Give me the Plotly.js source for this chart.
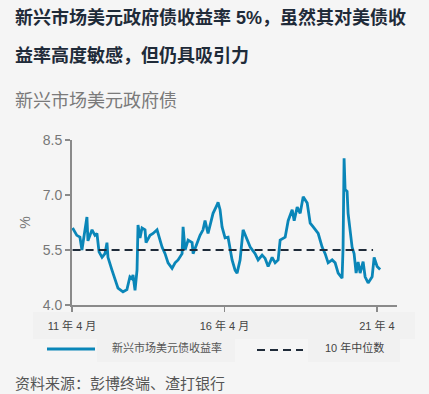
<!DOCTYPE html>
<html>
<head>
<meta charset="utf-8">
<script src="https://cdn.plot.ly/plotly-3.0.1.min.js"></script>
<style>html,body{margin:0;padding:0;background:#f5f5f5;}#chart{width:429px;height:394px;}</style>
</head>
<body>
<div id="chart"></div>
<script>
// Data
var dates = [
"2011-04-08","2011-05-29","2011-07-05","2011-07-29","2011-09-27","2011-10-09","2011-11-27","2012-01-01","2012-01-25","2012-02-19",
"2012-03-26","2012-04-30","2012-05-24","2012-06-05","2012-07-23","2012-08-28","2012-10-03","2012-12-02","2013-01-18","2013-02-23",
"2013-03-19","2013-04-01","2013-04-25","2013-05-19","2013-05-31","2013-06-24","2013-07-18","2013-08-23","2013-09-04","2013-10-22",
"2013-11-27","2014-01-14","2014-02-07","2014-03-15","2014-04-20","2014-05-26","2014-07-13","2014-08-18","2014-09-23","2014-11-10",
"2014-11-22","2014-12-16","2015-01-21","2015-03-10","2015-03-22","2015-05-08","2015-06-13","2015-07-19","2015-08-12","2015-09-17",
"2015-11-04","2015-11-16","2016-01-03","2016-01-15","2016-02-08","2016-03-03","2016-04-08","2016-05-14","2016-07-01","2016-08-06",
"2016-08-30","2016-10-05","2016-11-10","2016-12-28","2017-02-03","2017-04-03","2017-05-09","2017-06-26","2017-08-01","2017-09-06",
"2017-10-24","2017-11-29","2018-01-04","2018-01-28","2018-03-29","2018-05-04","2018-06-21","2018-07-15","2018-08-20","2018-09-25",
"2018-10-31","2018-12-18","2019-01-23","2019-02-28","2019-04-29","2019-06-15","2019-07-21","2019-08-26","2019-10-13","2019-11-18",
"2019-12-24","2020-02-09","2020-02-21","2020-03-04","2020-03-16","2020-04-09","2020-04-21","2020-06-08","2020-07-02","2020-07-26",
"2020-08-19","2020-09-12","2020-10-18","2020-11-11","2020-12-17","2021-02-03","2021-02-27","2021-04-04","2021-05-10"
];
var yields = [
6.10,5.90,5.85,5.50,6.40,5.75,6.05,5.90,5.95,5.45,
5.30,5.40,5.70,5.30,4.95,4.70,4.46,4.36,4.42,4.77,
4.72,4.82,4.40,4.95,6.18,5.83,6.10,6.05,5.70,5.90,
5.95,6.05,5.83,5.58,5.40,5.15,5.00,5.15,5.23,5.40,
6.13,5.50,5.77,5.70,5.40,5.70,5.90,6.05,6.30,5.95,
6.40,6.50,6.73,6.80,6.60,6.13,5.83,5.85,5.23,4.95,
4.87,5.23,6.05,5.77,5.58,5.40,5.23,5.36,5.27,5.05,
5.30,5.15,5.23,5.77,5.85,6.30,6.60,6.30,6.67,6.50,
6.95,6.78,6.23,6.13,5.95,5.58,5.40,5.15,5.23,5.15,
4.87,4.73,5.58,8.00,7.15,7.10,6.50,5.58,5.40,4.87,
5.17,4.87,5.18,4.77,4.60,4.77,5.30,5.05,4.97
];
var medianDates = ["2011-04-08","2021-02-14"];
var medianValues = [5.5, 5.5];
var xTickVals = ["2011-04-01","2016-04-01","2021-04-01"];
var xTickText = ["11 年 4 月","16 年 4 月","21 年 4"];
var yTickVals = [4.0, 5.5, 7.0, 8.5];
var seriesName = "新兴市场美元债收益率";
var medianName = "10 年中位数";

var FONT = "Liberation Sans, Arial, Noto Sans CJK SC, sans-serif";
var BLUE = "#0a86b8";
var NAVY = "#1f2b39";

// plot area in pixels: x 72..397, y 140..305
function px(x){ return (x - 72) / 325; }
function py(y){ return (305 - y) / 165; }

var traces = [
  {x: dates, y: yields, type: "scatter", mode: "lines", name: seriesName,
   line: {color: BLUE, width: 2.8}, hoverinfo: "skip"},
  {x: medianDates, y: medianValues, type: "scatter", mode: "lines", name: medianName,
   line: {color: NAVY, width: 1.8, dash: "8px,5px"}, hoverinfo: "skip"}
];

var shapes = [
  {type:"rect", xref:"paper", yref:"paper", x0:px(33), x1:px(415), y0:py(339), y1:py(312), fillcolor:"#f1f1f1", line:{width:0}, layer:"below"},
  {type:"rect", xref:"paper", yref:"paper", x0:px(97), x1:px(235), y0:py(362), y1:py(339), fillcolor:"#f1f1f1", line:{width:0}, layer:"below"},
  {type:"rect", xref:"paper", yref:"paper", x0:px(308), x1:px(400), y0:py(362), y1:py(339), fillcolor:"#f1f1f1", line:{width:0}, layer:"below"},
  {type:"line", xref:"paper", yref:"paper", x0:px(47), x1:px(95), y0:py(349), y1:py(349), line:{color:BLUE, width:2.8}},
  {type:"line", xref:"paper", yref:"paper", x0:px(257), x1:px(303), y0:py(350), y1:py(350), line:{color:NAVY, width:1.8, dash:"8px,5px"}}
];

var annotations = [
  {text:"<b>新兴市场美元政府债收益率 5%，虽然其对美债收</b>", xref:"paper", yref:"paper", x:px(13), y:py(18), xanchor:"left", yanchor:"middle", showarrow:false, font:{family:FONT, size:18, color:NAVY}},
  {text:"<b>益率高度敏感，但仍具吸引力</b>", xref:"paper", yref:"paper", x:px(13), y:py(55), xanchor:"left", yanchor:"middle", showarrow:false, font:{family:FONT, size:18, color:NAVY}},
  {text:"新兴市场美元政府债", xref:"paper", yref:"paper", x:px(13), y:py(101), xanchor:"left", yanchor:"middle", showarrow:false, font:{family:FONT, size:18, color:"#7a7a7a"}},
  {text:seriesName, xref:"paper", yref:"paper", x:px(110), y:py(347), xanchor:"left", yanchor:"middle", showarrow:false, font:{family:FONT, size:11, color:"#555"}},
  {text:medianName, xref:"paper", yref:"paper", x:px(323), y:py(347), xanchor:"left", yanchor:"middle", showarrow:false, font:{family:FONT, size:11, color:"#444"}},
  {text:"资料来源：彭博终端、渣打银行", xref:"paper", yref:"paper", x:px(13), y:py(383), xanchor:"left", yanchor:"middle", showarrow:false, font:{family:FONT, size:15, color:"#555"}}
];

var layout = {
  width: 429, height: 394,
  margin: {l:72, r:32, t:140, b:89, pad:0},
  paper_bgcolor: "#f5f5f5", plot_bgcolor: "#f5f5f5",
  showlegend: false,
  font: {family: FONT},
  xaxis: {type:"date", range:["2011-04-01","2021-11-28"], tickmode:"array", tickvals:xTickVals, ticktext:xTickText,
          showgrid:false, zeroline:false, showline:true, linecolor:"#8a8a8a", linewidth:2,
          ticks:"outside", ticklen:5, tickwidth:1.5, tickcolor:"#8a8a8a", ticklabelstandoff:5,
          tickfont:{family:FONT, size:11, color:"#444"}, fixedrange:true},
  yaxis: {range:[4,8.5], tickmode:"array", tickvals:yTickVals, tickformat:".1f",
          showgrid:false, zeroline:false, showline:true, linecolor:"#8a8a8a", linewidth:2,
          ticks:"outside", ticklen:5, tickwidth:1.5, tickcolor:"#8a8a8a",
          tickfont:{family:FONT, size:14, color:"#777"},
          title:{text:"%", font:{family:FONT, size:14, color:"#777"}, standoff:9}, fixedrange:true},
  shapes: shapes,
  annotations: annotations
};

Plotly.newPlot("chart", traces, layout, {displayModeBar:false, staticPlot:true});
</script>
</body>
</html>
